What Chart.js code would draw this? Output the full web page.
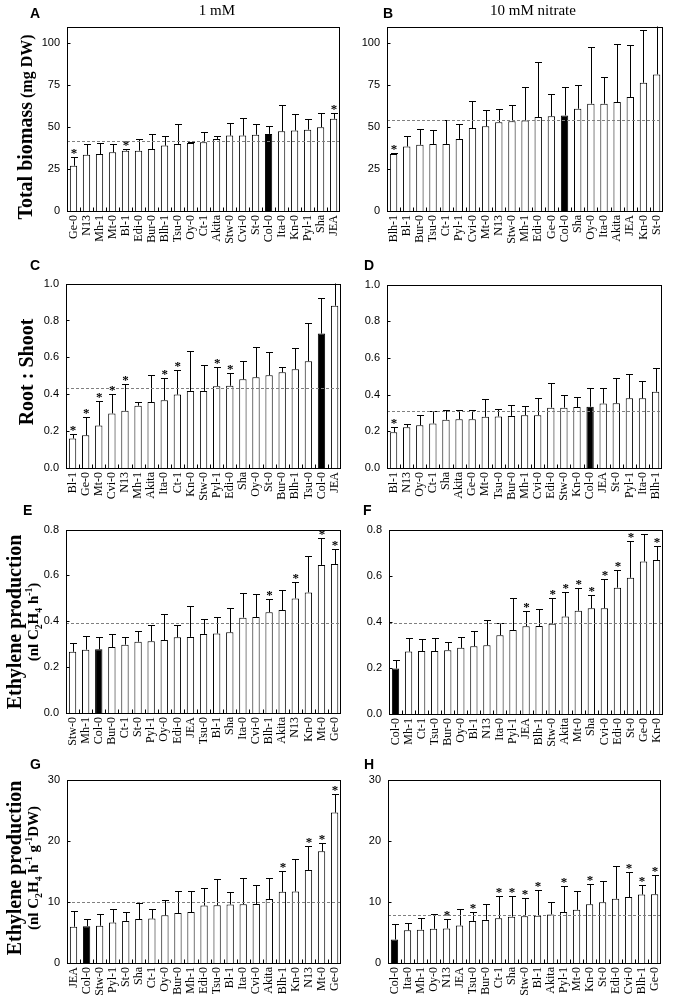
<!DOCTYPE html>
<html><head><meta charset="utf-8">
<script src="https://cdn.jsdelivr.net/npm/chart.js@4.4.0/dist/chart.umd.min.js"></script>
<style>
body{margin:0;background:#fff;width:680px;height:1002px;position:relative;overflow:hidden;font-family:"Liberation Serif",serif;color:#000;}
canvas{position:absolute;}
.t{position:absolute;white-space:nowrap;}
.rot{transform:translate(-50%,-50%) rotate(-90deg);font-weight:bold;text-align:center;line-height:1.1;}
.let{font-family:"Liberation Sans",sans-serif;font-weight:bold;font-size:14px;line-height:1;}
.hd{font-size:15px;line-height:1;transform:translateX(-50%);}
sub,sup{font-size:0.65em;line-height:0;}
</style></head><body>
<script>
// ---- Panel A: total biomass, 1 mM ----
const catsA = ["Ge-0","N13","Mh-1","Mt-0","Bl-1","Edi-0","Bur-0","Blh-1","Tsu-0","Oy-0","Ct-1","Akita","Stw-0","Cvi-0","St-0","Col-0","Ita-0","Kn-0","Pyl-1","Sha","JEA"];
const meanA = [27,33.5,34,35,36,36,37,39,40,40.5,41,43,45,45,45.5,46,47.5,48,48.5,50,55];
const sdA   = [5.5,6.5,6.5,5,1,7,9,6,12,0.5,6,2,7.5,10.5,6.5,4.5,15.5,10,6.5,8.5,3.5];
const starA = ["Ge-0","Bl-1","JEA"];
const refA = 42;
// ---- Panel B: total biomass, 10 mM ----
const catsB = ["Blh-1","Bl-1","Bur-0","Tsu-0","Ct-1","Pyl-1","Cvi-0","Mt-0","N13","Stw-0","Mh-1","Edi-0","Ge-0","Col-0","Sha","Oy-0","Ita-0","Akita","JEA","Kn-0","St-0"];
const meanB = [34,38.5,39.5,40,40,43,49.5,50.5,53,53.5,54,56,56.5,57,61,64,64,65,68,76.5,81.5];
const sdB   = [0.5,6.5,9.5,8.5,14.5,9,16,10,8,9.5,20,33,13,17,14,34,16,34.5,31,31.5,35];
const starB = ["Blh-1"];
const refB = 54;
// ---- Panel C: root:shoot, 1 mM ----
const catsC = ["Bl-1","Ge-0","Mt-0","Cvi-0","N13","Mh-1","Akita","Ita-0","Ct-1","Kn-0","Stw-0","Pyl-1","Edi-0","Sha","Oy-0","St-0","Bur-0","Blh-1","Tsu-0","Col-0","JEA"];
const meanC = [0.16,0.177,0.23,0.296,0.31,0.338,0.358,0.368,0.398,0.418,0.418,0.444,0.446,0.481,0.492,0.503,0.519,0.536,0.579,0.729,0.88];
const sdC   = [0.026,0.097,0.135,0.108,0.147,0.022,0.148,0.119,0.133,0.216,0.143,0.103,0.071,0.098,0.166,0.127,0.03,0.114,0.209,0.191,0.25];
const starC = ["Bl-1","Ge-0","Mt-0","Cvi-0","N13","Ita-0","Ct-1","Pyl-1","Edi-0"];
const refC = 0.434;
// ---- Panel D: root:shoot, 10 mM ----
const catsD = ["Bl-1","N13","Oy-0","Ct-1","Sha","Akita","Ge-0","Mt-0","Tsu-0","Bur-0","Mh-1","Cvi-0","Edi-0","Stw-0","Kn-0","Col-0","JEA","St-0","Pyl-1","Ita-0","Blh-1"];
const meanD = [0.195,0.222,0.233,0.243,0.263,0.266,0.266,0.279,0.281,0.284,0.288,0.288,0.329,0.329,0.332,0.334,0.352,0.353,0.38,0.38,0.416];
const sdD   = [0.027,0.018,0.057,0.066,0.053,0.05,0.048,0.096,0.04,0.057,0.049,0.092,0.136,0.069,0.053,0.103,0.085,0.137,0.132,0.092,0.128];
const starD = ["Bl-1"];
const refD = 0.313;
// ---- Panel E: ethylene per plant, 1 mM ----
const catsE = ["Stw-0","Mh-1","Col-0","Bur-0","Ct-1","St-0","Pyl-1","Oy-0","Edi-0","JEA","Tsu-0","Bl-1","Sha","Ita-0","Cvi-0","Blh-1","Akita","N13","Kn-0","Mt-0","Ge-0"];
const meanE = [0.267,0.276,0.278,0.288,0.298,0.311,0.313,0.318,0.33,0.332,0.345,0.347,0.352,0.416,0.419,0.44,0.449,0.5,0.526,0.646,0.65];
const sdE   = [0.038,0.061,0.053,0.057,0.034,0.047,0.069,0.112,0.052,0.135,0.064,0.072,0.108,0.107,0.099,0.057,0.089,0.072,0.157,0.118,0.065];
const starE = ["Blh-1","N13","Mt-0","Ge-0"];
const refE = 0.393;
// ---- Panel F: ethylene per plant, 10 mM ----
const catsF = ["Col-0","Mh-1","Ct-1","Tsu-0","Bur-0","Oy-0","Bl-1","N13","Ita-0","Pyl-1","JEA","Blh-1","Stw-0","Akita","Mt-0","Sha","Cvi-0","Edi-0","St-0","Ge-0","Kn-0"];
const meanF = [0.197,0.271,0.273,0.273,0.277,0.287,0.294,0.298,0.342,0.364,0.381,0.382,0.392,0.423,0.448,0.459,0.459,0.548,0.591,0.662,0.668];
const sdF   = [0.039,0.06,0.052,0.057,0.036,0.045,0.067,0.111,0.054,0.14,0.064,0.074,0.11,0.107,0.099,0.057,0.128,0.076,0.158,0.118,0.062];
const starF = ["JEA","Stw-0","Akita","Mt-0","Sha","Cvi-0","Edi-0","St-0","Kn-0"];
const refF = 0.396;
// ---- Panel G: ethylene per g DW, 1 mM ----
const catsG = ["JEA","Col-0","Stw-0","Pyl-1","St-0","Sha","Ct-1","Oy-0","Bur-0","Mh-1","Edi-0","Tsu-0","Bl-1","Ita-0","Cvi-0","Akita","Blh-1","Kn-0","N13","Mt-0","Ge-0"];
const meanG = [5.93,6.03,6.09,6.62,6.89,7.2,7.26,7.8,8.17,8.33,9.4,9.45,9.56,9.6,9.66,10.46,11.64,11.7,15.2,18.26,24.6];
const sdG   = [2.51,1.12,1.91,2.18,1.49,2.6,1.5,2.56,3.53,3.37,2.93,4.22,2.08,4.28,3.1,3.37,3.46,5.3,3.97,1.39,3.1];
const starG = ["Blh-1","N13","Mt-0","Ge-0"];
const refG = 10;
// ---- Panel H: ethylene per g DW, 10 mM ----
const catsH = ["Col-0","Ita-0","Mh-1","Oy-0","N13","JEA","Tsu-0","Bur-0","Ct-1","Sha","Stw-0","Bl-1","Akita","Pyl-1","Mt-0","Kn-0","St-0","Edi-0","Cvi-0","Blh-1","Ge-0"];
const meanH = [3.84,5.34,5.45,5.6,5.66,6.14,6.89,7.05,7.31,7.58,7.63,7.74,7.95,8.33,8.7,9.6,9.93,10.5,10.78,11.2,11.26];
const sdH   = [2.56,1.16,1.92,2.35,1.49,2.62,1.49,2.61,3.69,3.36,2.94,4.22,2.03,4.27,3.15,3.3,3.42,5.36,4.06,1.5,3.1];
const starH = ["N13","Tsu-0","Ct-1","Sha","Stw-0","Bl-1","Pyl-1","Kn-0","Cvi-0","Blh-1","Ge-0"];
const refH = 7.85;

// y-axis settings
const axisAB = {max:110, step:25, dec:0};
const axisCD = {max:1.0, step:0.2, dec:1};
const axisEF = {max:0.8, step:0.2, dec:1};
const axisGH = {max:30, step:10, dec:0};

const panels = [
  {cats:catsA, means:meanA, sd:sdA, stars:starA, ref:refA, ax:axisAB, rect:[67,23,352,211]},
  {cats:catsB, means:meanB, sd:sdB, stars:starB, ref:refB, ax:axisAB, rect:[387,23,675,211]},
  {cats:catsC, means:meanC, sd:sdC, stars:starC, ref:refC, ax:axisCD, rect:[66,280,353,468]},
  {cats:catsD, means:meanD, sd:sdD, stars:starD, ref:refD, ax:axisCD, rect:[387,281,674,468]},
  {cats:catsE, means:meanE, sd:sdE, stars:starE, ref:refE, ax:axisEF, rect:[66,526,353,713]},
  {cats:catsF, means:meanF, sd:sdF, stars:starF, ref:refF, ax:axisEF, rect:[389,526,675,714]},
  {cats:catsG, means:meanG, sd:sdG, stars:starG, ref:refG, ax:axisGH, rect:[67,776,353,963]},
  {cats:catsH, means:meanH, sd:sdH, stars:starH, ref:refH, ax:axisGH, rect:[388,776,673,963]}
];

const decor = {
  id:'decor',
  afterDatasetsDraw(chart, args, p){
    const ctx = chart.ctx, a = chart.chartArea, ys = chart.scales.y;
    const meta = chart.getDatasetMeta(0);
    ctx.save();
    ctx.beginPath(); ctx.rect(a.left, a.top, a.right-a.left, a.bottom-a.top); ctx.clip();
    // error bars
    ctx.strokeStyle = '#000'; ctx.lineWidth = 1;
    const tops = [];
    meta.data.forEach((el,i)=>{
      const x = Math.round(el.x)+0.5;
      const yt = Math.round(ys.getPixelForValue(p.means[i]+p.sd[i]))+0.5;
      tops.push(yt);
      ctx.beginPath();
      ctx.moveTo(x, el.y); ctx.lineTo(x, yt);
      ctx.moveTo(x-3.5, yt); ctx.lineTo(x+3.5, yt);
      ctx.stroke();
    });
    // reference dashed line
    ctx.strokeStyle = '#808080'; ctx.setLineDash([3,2]);
    const yr = Math.round(ys.getPixelForValue(p.ref))+0.5;
    ctx.beginPath(); ctx.moveTo(a.left, yr); ctx.lineTo(a.right, yr); ctx.stroke();
    ctx.setLineDash([]);
    ctx.restore();
    // significance stars
    ctx.save();
    ctx.fillStyle = '#000'; ctx.font = 'bold 13px "Liberation Serif"';
    ctx.textAlign = 'center'; ctx.textBaseline = 'alphabetic';
    meta.data.forEach((el,i)=>{
      if (p.stars.includes(p.cats[i])) ctx.fillText('*', el.x+0.5, tops[i]-1);
    });
    // frame
    ctx.strokeStyle = '#000'; ctx.lineWidth = 1;
    const L = Math.round(a.left)+0.5, R = Math.round(a.right)-0.5, T = Math.round(a.top)+0.5, B = Math.round(a.bottom)+0.5;
    ctx.strokeRect(L, T, R-L, B-T);
    // inside ticks
    ctx.beginPath();
    ys.ticks.forEach(t=>{
      const y = Math.round(ys.getPixelForValue(t.value))+0.5;
      ctx.moveTo(L, y); ctx.lineTo(L+3, y);
    });
    const n = p.cats.length, step = (a.right-a.left)/n;
    for (let i=1;i<n;i++){
      const x = Math.round(a.left + i*step)+0.5;
      ctx.moveTo(x, B); ctx.lineTo(x, B-4);
    }
    ctx.stroke();
    ctx.restore();
  }
};

function makeChart(p){
  const yw = 60, pt = 10, xh = 44, pr = 0;
  const [l,t,r,b] = p.rect;
  const W = r-l+yw+pr, H = b-t+pt+xh;
  const cv = document.createElement('canvas');
  cv.width = W; cv.height = H;
  cv.style.left = (l-yw)+'px'; cv.style.top = (t-pt)+'px';
  cv.style.width = W+'px'; cv.style.height = H+'px';
  document.body.appendChild(cv);
  new Chart(cv, {
    type:'bar',
    data:{labels:p.cats, datasets:[{
      data:p.means,
      backgroundColor:p.cats.map(c=>c==='Col-0'?'#000':'#fff'),
      borderColor:'#000', borderWidth:1,
      barPercentage:0.56, categoryPercentage:1
    }]},
    options:{
      responsive:false, animation:false, devicePixelRatio:1,
      layout:{padding:{top:pt,right:pr,left:0,bottom:0}},
      plugins:{legend:{display:false}, tooltip:{enabled:false}, decor:p},
      scales:{
        x:{grid:{display:false,drawTicks:false}, border:{display:false},
           ticks:{autoSkip:false,maxRotation:90,minRotation:90,padding:4,color:'#000',
                  font:{family:'Liberation Serif',size:12}},
           afterFit:s=>{s.height=xh;}},
        y:{min:0, max:p.ax.max, grid:{display:false,drawTicks:false}, border:{display:false},
           ticks:{stepSize:p.ax.step,padding:7,color:'#000',font:{family:'Liberation Sans',size:11},
                  callback:v=>Number(v).toFixed(p.ax.dec)},
           afterBuildTicks:s=>{s.ticks=s.ticks.filter(tk=>Math.abs(tk.value/p.ax.step-Math.round(tk.value/p.ax.step))<1e-6);},
           afterFit:s=>{s.width=yw;}}
      }
    },
    plugins:[decor]
  });
}
panels.forEach(makeChart);

function addText(html, cls, css){
  const d = document.createElement('div');
  d.className = 't '+cls; d.innerHTML = html;
  Object.assign(d.style, css);
  document.body.appendChild(d);
}
// panel letters
[["A",30,6],["B",383,6],["C",30,258],["D",364,258],["E",23,503],["F",363,503],["G",30,757],["H",364,757]]
  .forEach(([s,x,y])=>addText(s,'let',{left:x+'px',top:y+'px'}));
// column headers
addText('1 mM','hd',{left:'217px',top:'3px'});
addText('10 mM nitrate','hd',{left:'533px',top:'3px'});
// y-axis titles
addText('<span style="font-size:20px">Total biomass</span> <span style="font-size:16px">(mg DW)</span>','rot',{left:'25px',top:'127px'});
addText('<span style="font-size:20px">Root : Shoot</span>','rot',{left:'26px',top:'372px'});
addText('<div style="font-size:20px">Ethylene production</div><div style="font-size:15px">(nl C<sub>2</sub>H<sub>4</sub> h<sup>-1</sup>)</div>','rot',{left:'22px',top:'622px'});
addText('<div style="font-size:20px">Ethylene production</div><div style="font-size:15px">(nl C<sub>2</sub>H<sub>4</sub> h<sup>-1</sup> g<sup>-1</sup>DW)</div>','rot',{left:'22px',top:'868px'});
</script>
</body></html>
